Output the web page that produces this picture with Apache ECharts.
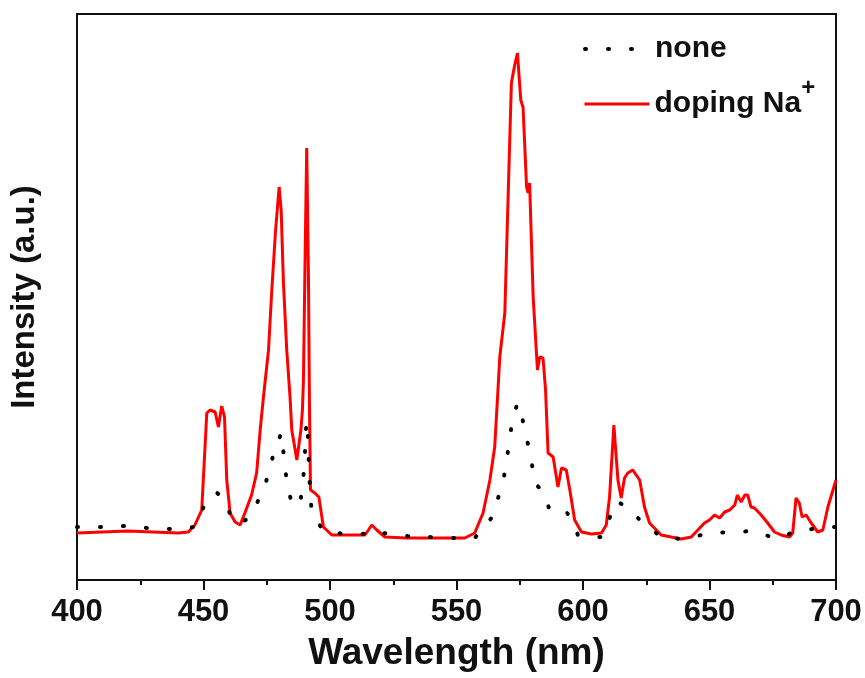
<!DOCTYPE html>
<html>
<head>
<meta charset="utf-8">
<script src="https://cdn.jsdelivr.net/npm/echarts@6/dist/echarts.min.js"></script>
<style>
html,body{margin:0;padding:0;background:#fff;}
#chart{width:865px;height:678px;}
</style>
</head>
<body>
<div id="chart"></div>
<script>
// Wavelength ticks
var xTicks = [400, 450, 500, 550, 600, 650, 700];

// Series "doping Na+" (red, solid)
var dopingWl = [400,410,420,430,440,444,446.6,449.3,451.3,452.6,454.6,455.9,457.2,458.3,459.2,460.5,462.5,464.5,466.5,469,471,472.4,473.7,475.7,477,478.5,479.9,480.7,481.6,482.9,484.2,484.9,486.9,488.5,489.1,489.5,490.2,490.8,491.5,491.9,492.3,494,495.6,497.4,500.7,505,510,513.8,515.2,516.5,518.5,521.7,530,540,553.3,557.2,560.5,563.2,565.1,566.5,567.1,569.1,570.4,571.7,573,574.1,575.4,576.3,577.7,578.3,578.9,580.3,582,582.9,584.2,585.2,586.2,588.2,590.1,591.5,593.4,594.8,596.7,599.4,603.3,607.3,609.2,610.5,612.2,613.8,615.1,616.4,617.7,619.7,621,622.4,624.3,626.3,630.9,638.8,642.8,648,650,652,654,656,658,660,661,662.5,664,665.1,666.4,667.8,670.4,673,675.7,678.3,681.6,682.9,684.2,685.5,686.6,688.2,690.2,692.8,694.8,696.8,700];
var dopingVal = [47,48,49,48,47,48,55,70,167,170,168,153,174,163,100,67,58,55,68,85,107,150,183,230,290,350,393,370,297,230,183,150,120,150,170,200,330,432,300,170,90,87,83,53,45,45,45,45,50,55,50,43,42,42,42,47,67,100,133,195,223,267,383,497,515,527,480,473,393,387,397,283,210,223,222,190,127,123,93,112,110,90,60,48,46,47,55,83,155,100,82,102,107,110,105,100,73,57,45,41,43,57,60,65,62,68,70,75,85,78,85,85,73,72,65,57,48,45,43,47,82,77,63,65,57,48,50,73,100];

// Series "none" (black, dotted)
var noneWl = [400,409.6,418.8,427.8,436.8,446.4,450.4,454.9,458.3,461.5,465,468.8,472.8,476.3,478,480.9,481.8,482.9,484.9,486.5,488.5,489.5,490.1,490.5,491,491.4,491.7,492.1,492.8,497.4,505.9,513,516.5,521,529.6,538.8,548,557.2,563.8,566.7,569.1,570.4,571.7,574,575.9,577.7,579.6,580.7,584.2,587.1,590.5,593.8,598,602.5,607.3,611,613.2,617.3,623.7,631.6,640.8,649.7,659.2,667.5,676.7,684.2,688.2,696.1,700];
var noneVal = [53,53,54,52,51,53,75,88,81,59,57,64,86,109,132,147,122,99,76,73,82,104,127,151,159,137,113,90,67,49,46,46,50,47,44,43,42,42,62,84,107,130,153,177,163,142,121,97,89,68,67,67,45,43,43,65,79,73,57,42,41,47,48,49,41,49,50,53,53];

var seriesNames = ['none', 'doping Na+'];
var yMax = 566;

function pairs(xs, ys) {
  var out = [];
  for (var i = 0; i < xs.length; i++) out.push([xs[i], ys[i]]);
  return out;
}

var FONT = '"Liberation Sans", Arial, Helvetica, sans-serif';
var chart = echarts.init(document.getElementById('chart'), null, {renderer: 'canvas'});

var legendText = {
  fontFamily: FONT, fontSize: 30, fontWeight: 'bold', color: '#111',
  rich: {
    sup: {fontFamily: FONT, fontSize: 24, fontWeight: 'bold', color: '#111', verticalAlign: 'top', padding: [0, 0, 32, 0]}
  }
};

chart.setOption({
  animation: false,
  backgroundColor: '#fff',
  grid: {left: 75, right: 29, top: 14, bottom: 98, show: true, borderColor: '#111', borderWidth: 2, backgroundColor: 'transparent'},
  legend: [
    {
      data: [seriesNames[0]], left: 583, top: 34, orient: 'vertical', padding: 0,
      itemWidth: 65, itemHeight: 14, textStyle: legendText, selectedMode: false,
      itemStyle: {opacity: 0},
      lineStyle: {color: '#000', width: 4, type: [1, 22], cap: 'round'}
    },
    {
      data: [seriesNames[1]], left: 583, top: 76, orient: 'vertical', padding: 0,
      itemWidth: 65, itemHeight: 14, textStyle: legendText, selectedMode: false,
      itemStyle: {opacity: 0},
      lineStyle: {color: '#ff0000', width: 3},
      formatter: function (n) { return n === 'doping Na+' ? 'doping Na{sup|+}' : n; }
    }
  ],
  xAxis: {
    type: 'value', min: xTicks[0], max: xTicks[xTicks.length - 1], interval: 50,
    name: 'Wavelength (nm)', nameLocation: 'middle', nameGap: 55,
    nameTextStyle: {fontFamily: FONT, fontSize: 37, fontWeight: 'bold', color: '#111'},
    axisLine: {show: true, lineStyle: {color: '#111', width: 2}},
    axisTick: {show: true, inside: false, length: 10, lineStyle: {color: '#111', width: 2}},
    minorTick: {show: true, splitNumber: 2, length: 5, lineStyle: {color: '#111', width: 2}},
    axisLabel: {margin: 17, fontFamily: FONT, fontSize: 31, fontWeight: 'bold', color: '#111'},
    splitLine: {show: false}
  },
  yAxis: {
    type: 'value', min: 0, max: yMax,
    name: 'Intensity (a.u.)', nameLocation: 'middle', nameGap: 36,
    nameTextStyle: {fontFamily: FONT, fontSize: 33, fontWeight: 'bold', color: '#111'},
    axisLine: {show: true, lineStyle: {color: '#111', width: 2}},
    axisTick: {show: false},
    axisLabel: {show: false},
    splitLine: {show: false}
  },
  series: [
    {
      name: seriesNames[1], type: 'line', data: pairs(dopingWl, dopingVal),
      symbol: 'none', smooth: false,
      lineStyle: {color: '#ff0000', width: 3}, itemStyle: {color: '#ff0000'}, z: 2
    },
    {
      name: seriesNames[0], type: 'line', data: pairs(noneWl, noneVal),
      symbol: 'none', smooth: false,
      lineStyle: {color: '#000', width: 4, type: [1, 22], cap: 'round'}, itemStyle: {color: '#000'}, z: 3
    }
  ]
});
</script>
</body>
</html>
